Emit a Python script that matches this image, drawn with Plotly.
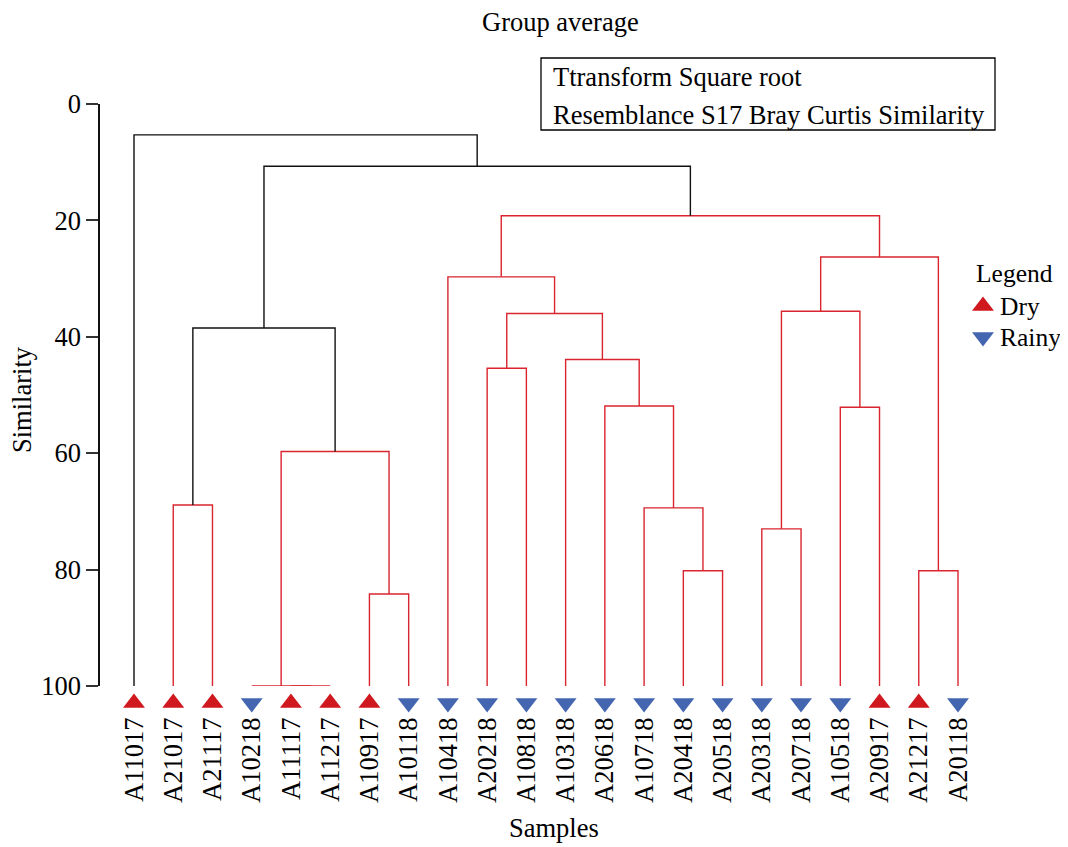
import plotly.graph_objects as go

# ---------------- data ----------------
leaves = ["A11017", "A21017", "A21117", "A10218", "A11117", "A11217", "A10917", "A10118",
          "A10418", "A20218", "A10818", "A10318", "A20618", "A10718", "A20418", "A20518",
          "A20318", "A20718", "A10518", "A20917", "A21217", "A20118"]
season = ["Dry", "Dry", "Dry", "Rainy", "Dry", "Dry", "Dry", "Rainy",
          "Rainy", "Rainy", "Rainy", "Rainy", "Rainy", "Rainy", "Rainy", "Rainy",
          "Rainy", "Rainy", "Rainy", "Dry", "Dry", "Rainy"]

merge_id = ["m1", "m2", "m3", "m4", "m5", "m6", "m7", "m8", "m9", "m10", "m11",
            "m12", "m13", "m14", "m15", "m16", "m17", "m18", "m19", "m20", "m21"]
merge_left = ["A11117", "A10218", "A10917", "m2", "A21017", "m5", "A20418", "A10718",
              "A20618", "A10318", "A20218", "m11", "A10418", "A20318", "A10518", "m14",
              "A21217", "m16", "m13", "m6", "A11017"]
merge_right = ["A11217", "m1", "A10118", "m3", "A21117", "m4", "A20518", "m7",
               "m8", "m9", "A10818", "m10", "m12", "A20718", "A20917", "m15",
               "A20118", "m17", "m18", "m19", "m20"]
merge_similarity = [100, 100, 84.2, 59.7, 68.9, 38.5, 80.2, 69.4, 51.9, 43.9, 45.4,
                    36.0, 29.7, 73.0, 52.1, 35.6, 80.2, 26.3, 19.2, 10.7, 5.3]
merge_significant = [False, False, False, False, False, True, False, False, False, False, False,
                     False, False, False, False, False, False, False, False, True, True]

y_ticks = [0, 20, 40, 60, 80, 100]
groups = ["Dry", "Rainy"]

# ---------------- styling ----------------
FONT = "Liberation Serif"
FS = 26.5
FS_LEG = 25.5
RED_LINE = "#d9252f"
BLACK_LINE = "#111111"
RED_MARK = "#d0191f"
BLUE_MARK = "#4466b0"
SYMBOLS = {"Dry": "triangle-up", "Rainy": "triangle-down"}
COLORS = {"Dry": RED_MARK, "Rainy": BLUE_MARK}

# page layout (page pixels; the html body adds an 8px margin around the figure)
OFF = 8
W, H = 1068 - 2 * OFF, 847 - OFF
PLOT_LEFT, PLOT_TOP, AXIS_BOTTOM, STRIP_BOTTOM, PLOT_RIGHT = 100, 104, 686, 720, 1008
L = PLOT_LEFT - OFF
T = PLOT_TOP - OFF
B = H - (STRIP_BOTTOM - OFF)
R = W - (PLOT_RIGHT - OFF)
PW, PH = W - L - R, H - T - B
MARK_STRIP = (STRIP_BOTTOM - AXIS_BOTTOM) / PH

def px_to_paper_x(px):
    return (px - OFF - L) / PW

def px_to_paper_y(py):
    return (H - B - (py - OFF)) / PH

FIRST_LEAF_PX, LAST_LEAF_PX = 134, 958
px_per_unit_x = (LAST_LEAF_PX - FIRST_LEAF_PX) / (len(leaves) - 1)
px_per_unit_y = (AXIS_BOTTOM - PLOT_TOP) / 100.0
x_lo = 1 - (FIRST_LEAF_PX - PLOT_LEFT) / px_per_unit_x
x_hi = len(leaves) + (PLOT_RIGHT - LAST_LEAF_PX) / px_per_unit_x

def px_to_data_x(px):
    return 1 + (px - FIRST_LEAF_PX) / px_per_unit_x

def px_to_data_y(py):
    return (py - PLOT_TOP) / px_per_unit_y

# ---------------- tree geometry ----------------
pos = {name: i + 1 for i, name in enumerate(leaves)}
hgt = {name: 100 for name in leaves}
red_x, red_y, blk_x, blk_y = [], [], [], []
for mid, l, r, h, sig in zip(merge_id, merge_left, merge_right, merge_similarity, merge_significant):
    xl, xr = pos[l], pos[r]
    xs = [xl, xl, xr, xr, None]
    ys = [hgt[l], h, h, hgt[r], None]
    if sig:
        blk_x += xs; blk_y += ys
    else:
        red_x += xs; red_y += ys
    pos[mid] = (xl + xr) / 2
    hgt[mid] = h

fig = go.Figure()
fig.add_trace(go.Scatter(x=red_x, y=red_y, mode="lines", line=dict(color=RED_LINE, width=1.4),
                         showlegend=False, hoverinfo="skip", cliponaxis=False))
fig.add_trace(go.Scatter(x=blk_x, y=blk_y, mode="lines", line=dict(color=BLACK_LINE, width=1.4),
                         showlegend=False, hoverinfo="skip", cliponaxis=False))

# leaf markers on a thin strip axis just below the dendrogram
for grp in groups:
    xs = [i + 1 for i, s in enumerate(season) if s == grp]
    fig.add_trace(go.Scatter(x=xs, y=[0.5] * len(xs), mode="markers", name=grp,
                             xaxis="x", yaxis="y2", showlegend=False,
                             marker=dict(symbol=SYMBOLS[grp], size=19, color=COLORS[grp],
                                         line=dict(width=0)),
                             cliponaxis=False))

# legend keys
legend_rows_px = [306, 337]
for grp, py in zip(groups, legend_rows_px):
    fig.add_trace(go.Scatter(x=[px_to_data_x(983)], y=[px_to_data_y(py)], mode="markers",
                             showlegend=False, hoverinfo="skip", cliponaxis=False,
                             marker=dict(symbol=SYMBOLS[grp], size=19, color=COLORS[grp],
                                         line=dict(width=0))))

fig.update_layout(
    width=W, height=H,
    margin=dict(l=L, r=R, t=T, b=B, pad=0),
    plot_bgcolor="white", paper_bgcolor="white",
    font=dict(family=FONT, size=FS, color="black"),
    showlegend=False,
    xaxis=dict(range=[x_lo, x_hi], tickmode="array", tickvals=list(range(1, len(leaves) + 1)),
               ticktext=leaves, tickangle=-90, ticks="outside", ticklen=20,
               tickcolor="rgba(0,0,0,0)", showline=False, showgrid=False, zeroline=False,
               anchor="y", automargin=False,
               tickfont=dict(family=FONT, size=FS, color="black")),
    yaxis=dict(range=[100, 0], domain=[MARK_STRIP, 1], tickmode="array", tickvals=y_ticks,
               ticks="outside", ticklen=12, tickwidth=1.5, tickcolor="#333333", showline=True,
               linecolor="#111111", linewidth=1.5, showgrid=False, zeroline=False,
               automargin=False,
               tickfont=dict(family=FONT, size=FS, color="black")),
    yaxis2=dict(range=[0, 1], domain=[0, MARK_STRIP], anchor="x", visible=False,
                showgrid=False, zeroline=False, fixedrange=True),
)

fig.add_shape(type="rect", xref="paper", yref="paper",
              x0=px_to_paper_x(541), x1=px_to_paper_x(995),
              y0=px_to_paper_y(130), y1=px_to_paper_y(58),
              line=dict(color="black", width=1.3), fillcolor="rgba(0,0,0,0)")

ann = [
    ("Ttransform Square root", 551, 77, "left", 0, FS),
    ("Resemblance S17 Bray Curtis Similarity", 551, 115, "left", 0, FS),
    ("Group average", 560, 22, "center", 0, FS),
    ("Similarity", 22, 400, "center", -90, FS),
    ("Samples", 554, 828, "center", 0, FS),
    ("Legend", 974, 273, "left", 0, FS_LEG),
    ("Dry", 998, 306, "left", 0, FS_LEG),
    ("Rainy", 998, 337, "left", 0, FS_LEG),
]
for text, px, py, xa, ang, fs in ann:
    fig.add_annotation(xref="paper", yref="paper", showarrow=False, text=text,
                       x=px_to_paper_x(px), y=px_to_paper_y(py), xanchor=xa, yanchor="middle",
                       textangle=ang, font=dict(family=FONT, size=fs, color="black"))

fig.write_html("out.html")
